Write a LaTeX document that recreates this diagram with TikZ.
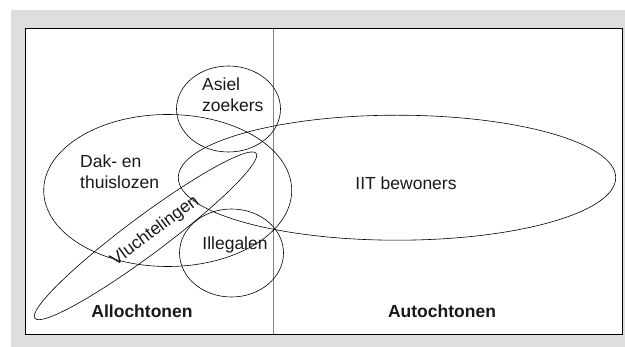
\documentclass[tikz,border=0pt]{standalone}
\usepackage{fontspec}
\setmainfont{Liberation Sans}
\definecolor{bggray}{RGB}{221,222,223}
\definecolor{divgray}{RGB}{130,130,130}
\begin{document}
\begin{tikzpicture}[x=1pt,y=-1pt,
  set/.style={draw=black,line width=0.6pt},
  lbl/.style={font=\fontsize{17.5}{21}\selectfont,text=black!90,inner sep=0pt,align=left},
  cat/.style={font=\fontsize{17.5}{21}\selectfont\bfseries,text=black!90,inner sep=0pt}]
\useasboundingbox (0,0) rectangle (625,347);
\fill[bggray] (11,10) rectangle (625,347);
\draw[fill=white,line width=1pt] (25,29) rectangle (622.5,334.5);
\coordinate (dtop) at (273.5,29);
\coordinate (dbot) at (273.5,334.5);
\draw[divgray,line width=1.3pt] (dtop) -- (dbot);
% sets
\draw[set] (228.5,109) ellipse [x radius=52, y radius=43];
\draw[set] (167.7,190.5) ellipse [x radius=124, y radius=76];
\draw[set] (397,177.7) ellipse [x radius=218.7, y radius=62.5];
\draw[set] (231.5,253) ellipse [x radius=52, y radius=44];
\draw[set,rotate around={36.7:(145.5,235.8)}] (145.5,235.8) ellipse [x radius=138, y radius=19];
% labels
\node[lbl,anchor=north west] (asiel) at (202,78) {Asiel\\zoekers};
\node[lbl,anchor=north west] (dak) at (80,155) {Dak- en\\thuislozen};
\node[lbl] (iit) at (406,183) {IIT bewoners};
\node[lbl] (ill) at (235,245) {Illegalen};
\node[lbl,rotate=36.7] (vl) at (155,231) {Vluchtelingen};
\node[cat] (allo) at (142,311) {Allochtonen};
\node[cat] (auto) at (442,311) {Autochtonen};
\end{tikzpicture}
\end{document}
